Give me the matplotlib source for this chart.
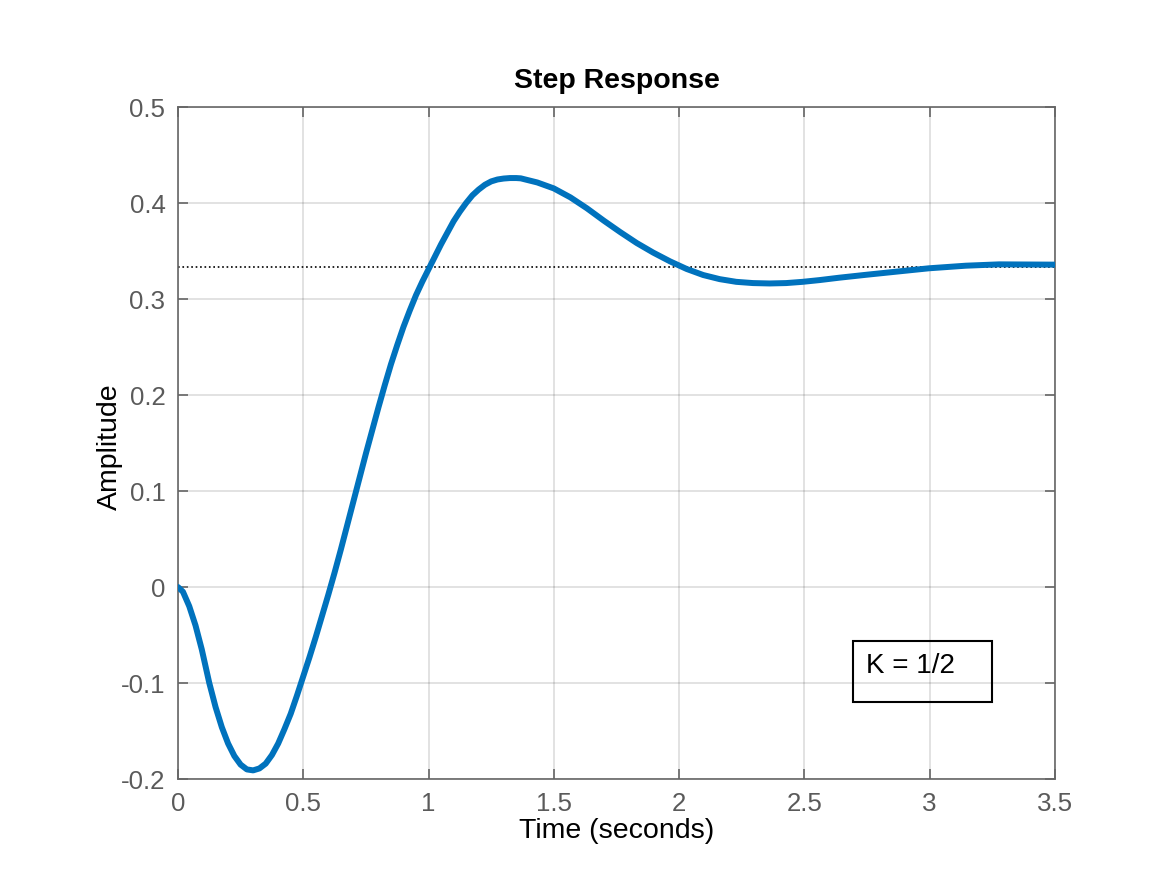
import matplotlib.pyplot as plt
import matplotlib.patches as patches
from matplotlib.ticker import FormatStrFormatter

# step response (time in s, amplitude)
t = [0.000, 0.020, 0.045, 0.070, 0.095, 0.125, 0.150, 0.175, 0.200, 0.225,
     0.250, 0.275, 0.300, 0.325, 0.350, 0.375, 0.400, 0.425, 0.450, 0.475,
     0.500, 0.525, 0.550, 0.575, 0.600, 0.625, 0.650, 0.675, 0.700, 0.725,
     0.750, 0.775, 0.800, 0.825, 0.850, 0.875, 0.900, 0.925, 0.950, 0.975,
     1.000, 1.025, 1.050, 1.075, 1.100, 1.125, 1.150, 1.175, 1.200, 1.225,
     1.250, 1.275, 1.300, 1.325, 1.350, 1.368, 1.434, 1.500, 1.566, 1.632,
     1.699, 1.765, 1.831, 1.897, 1.964, 2.030, 2.096, 2.162, 2.228, 2.295,
     2.361, 2.427, 2.493, 2.560, 2.639, 2.745, 2.878, 2.997, 3.144, 3.277,
     3.500]
amp = [0.000, -0.005, -0.020, -0.040, -0.065, -0.100, -0.125, -0.146, -0.163, -0.176,
       -0.185, -0.190, -0.191, -0.189, -0.184, -0.175, -0.163, -0.148, -0.132, -0.113,
       -0.093, -0.073, -0.052, -0.030, -0.008, 0.015, 0.039, 0.064, 0.089, 0.114,
       0.139, 0.163, 0.187, 0.210, 0.232, 0.252, 0.271, 0.288, 0.304, 0.318,
       0.331, 0.344, 0.357, 0.369, 0.381, 0.391, 0.400, 0.408, 0.414, 0.419,
       0.4225, 0.4245, 0.4255, 0.426, 0.426, 0.4257, 0.4214, 0.4152, 0.4059, 0.3945,
       0.3817, 0.3697, 0.3583, 0.3483, 0.3392, 0.3313, 0.3250, 0.3207, 0.3179, 0.3166,
       0.3162, 0.3166, 0.3179, 0.3197, 0.3222, 0.3252, 0.3288, 0.3320, 0.3347, 0.3361,
       0.3358]
final_value = 1 / 3

xticks = [0, 0.5, 1, 1.5, 2, 2.5, 3, 3.5]
yticks = [-0.2, -0.1, 0, 0.1, 0.2, 0.3, 0.4, 0.5]
note = 'K = 1/2'

plt.rcParams['font.family'] = ['Liberation Sans', 'DejaVu Sans']
plt.rcParams['axes.unicode_minus'] = False

fig = plt.figure(figsize=(11.67, 8.75), dpi=100)
ax = fig.add_axes([0.1525, 0.1097, 0.7515, 0.768])

ax.plot(t, amp, color='#0072BD', lw=4.3, solid_capstyle='round',
        solid_joinstyle='round', zorder=3)
ax.axhline(final_value, color='black', ls=':', lw=1.2, zorder=2)

ax.set_xlim(0, 3.5)
ax.set_ylim(-0.2, 0.5)
ax.set_xticks(xticks)
ax.set_yticks(yticks)
ax.xaxis.set_major_formatter(FormatStrFormatter('%g'))
ax.yaxis.set_major_formatter(FormatStrFormatter('%g'))

gray = '#666666'
for s in ax.spines.values():
    s.set_color(gray)
    s.set_linewidth(1.2)
ax.tick_params(direction='in', length=7, width=1.2, color=gray,
               labelcolor='#5a5a5a', labelsize=18.6, pad=9,
               top=True, right=True)
ax.grid(True, color='#262626', alpha=0.15, lw=1.3)
ax.set_axisbelow(True)

ax.set_title('Step Response', fontsize=20.5, fontweight='bold', y=1.027, va='center')
ax.set_xlabel('Time (seconds)', fontsize=20.5)
ax.xaxis.label.set_va('center')
ax.xaxis.set_label_coords(0.5, -0.078)
ax.set_ylabel('Amplitude', fontsize=20.5)
ax.yaxis.label.set_va('center')
ax.yaxis.set_label_coords(-0.0775, 0.494)

# annotation box
ax.add_patch(patches.Rectangle((2.694, -0.1198), 0.555, 0.0636, fill=False,
                               ec='black', lw=1.5, zorder=4))
ax.text(2.746, -0.0823, note, fontsize=20, va='center', ha='left', zorder=4)

fig.savefig('out.png', dpi=100)
